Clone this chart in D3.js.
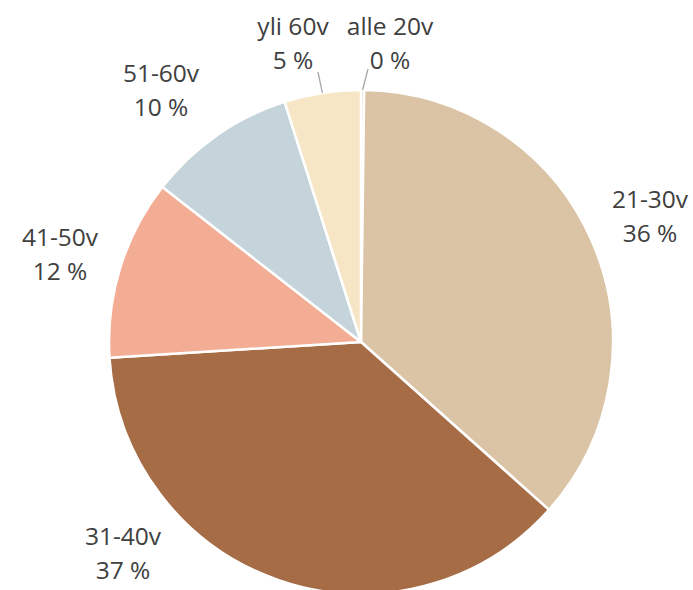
<!DOCTYPE html>
<html>
<head>
    <meta charset="utf-8">
    <title>Ikäjakauma</title>
    <script src="https://d3js.org/d3.v7.min.js"></script>
    <style>
        body { margin: 0; background: #fff; }
    </style>
</head>
<body>
<script>

    const width = 693;
    const height = 590;

    // data
    const categories = ["alle 20v", "21-30v", "31-40v", "41-50v", "51-60v", "yli 60v"];
    const shares = [0.2, 36.4, 37.4, 11.55, 9.55, 4.9];
    const colors = ["#DBC4A6", "#DBC4A6", "#A66C46", "#F4AD95", "#C5D4DB", "#F6E6C6"];

    // where Excel put each label (block centre x, first baseline y)
    const labelPos = [
        [390, 35], [650, 208], [123, 545], [60, 246], [161, 82], [293, 35]
    ];
    const leaderEnd = [[368, 69], null, null, null, null, [318, 72]];

    const cx = 361, cy = 342, radius = 252;

    const svg = d3.select("body").append("svg")
        .attr("width", width)
        .attr("height", height);

    const g = svg.append("g")
        .attr("transform", `translate(${cx},${cy})`);

    const pie = d3.pie().sort(null).value(d => d);
    const arcs = pie(shares);
    const arc = d3.arc().innerRadius(0).outerRadius(radius);

    g.selectAll("path")
        .data(arcs)
        .enter()
        .append("path")
        .attr("d", arc)
        .attr("fill", (d, i) => colors[i])
        .attr("stroke", "#fff")
        .attr("stroke-width", 2.5)
        .attr("stroke-linejoin", "round");

    const total = d3.sum(shares);

    // leader lines for the thin slices
    arcs.forEach((d, i) => {
        if (!leaderEnd[i]) return;
        const a = (d.startAngle + d.endAngle) / 2;
        const x0 = cx + radius * Math.sin(a);
        const y0 = cy - radius * Math.cos(a);
        svg.append("line")
            .attr("x1", x0).attr("y1", y0)
            .attr("x2", leaderEnd[i][0]).attr("y2", leaderEnd[i][1])
            .attr("stroke", "#a6a6a6")
            .attr("stroke-width", 1.3);
    });

    const labels = svg.append("g")
        .attr("font-family", "'Open Sans', sans-serif")
        .attr("font-size", 24.5)
        .attr("fill", "#404040")
        .attr("text-anchor", "middle");

    categories.forEach((c, i) => {
        const t = labels.append("text")
            .attr("x", labelPos[i][0])
            .attr("y", labelPos[i][1]);
        t.append("tspan").attr("x", labelPos[i][0]).text(c);
        t.append("tspan").attr("x", labelPos[i][0]).attr("dy", 34)
            .text(Math.round(shares[i] / total * 100) + " %");
    });

</script>
</body>
</html>
